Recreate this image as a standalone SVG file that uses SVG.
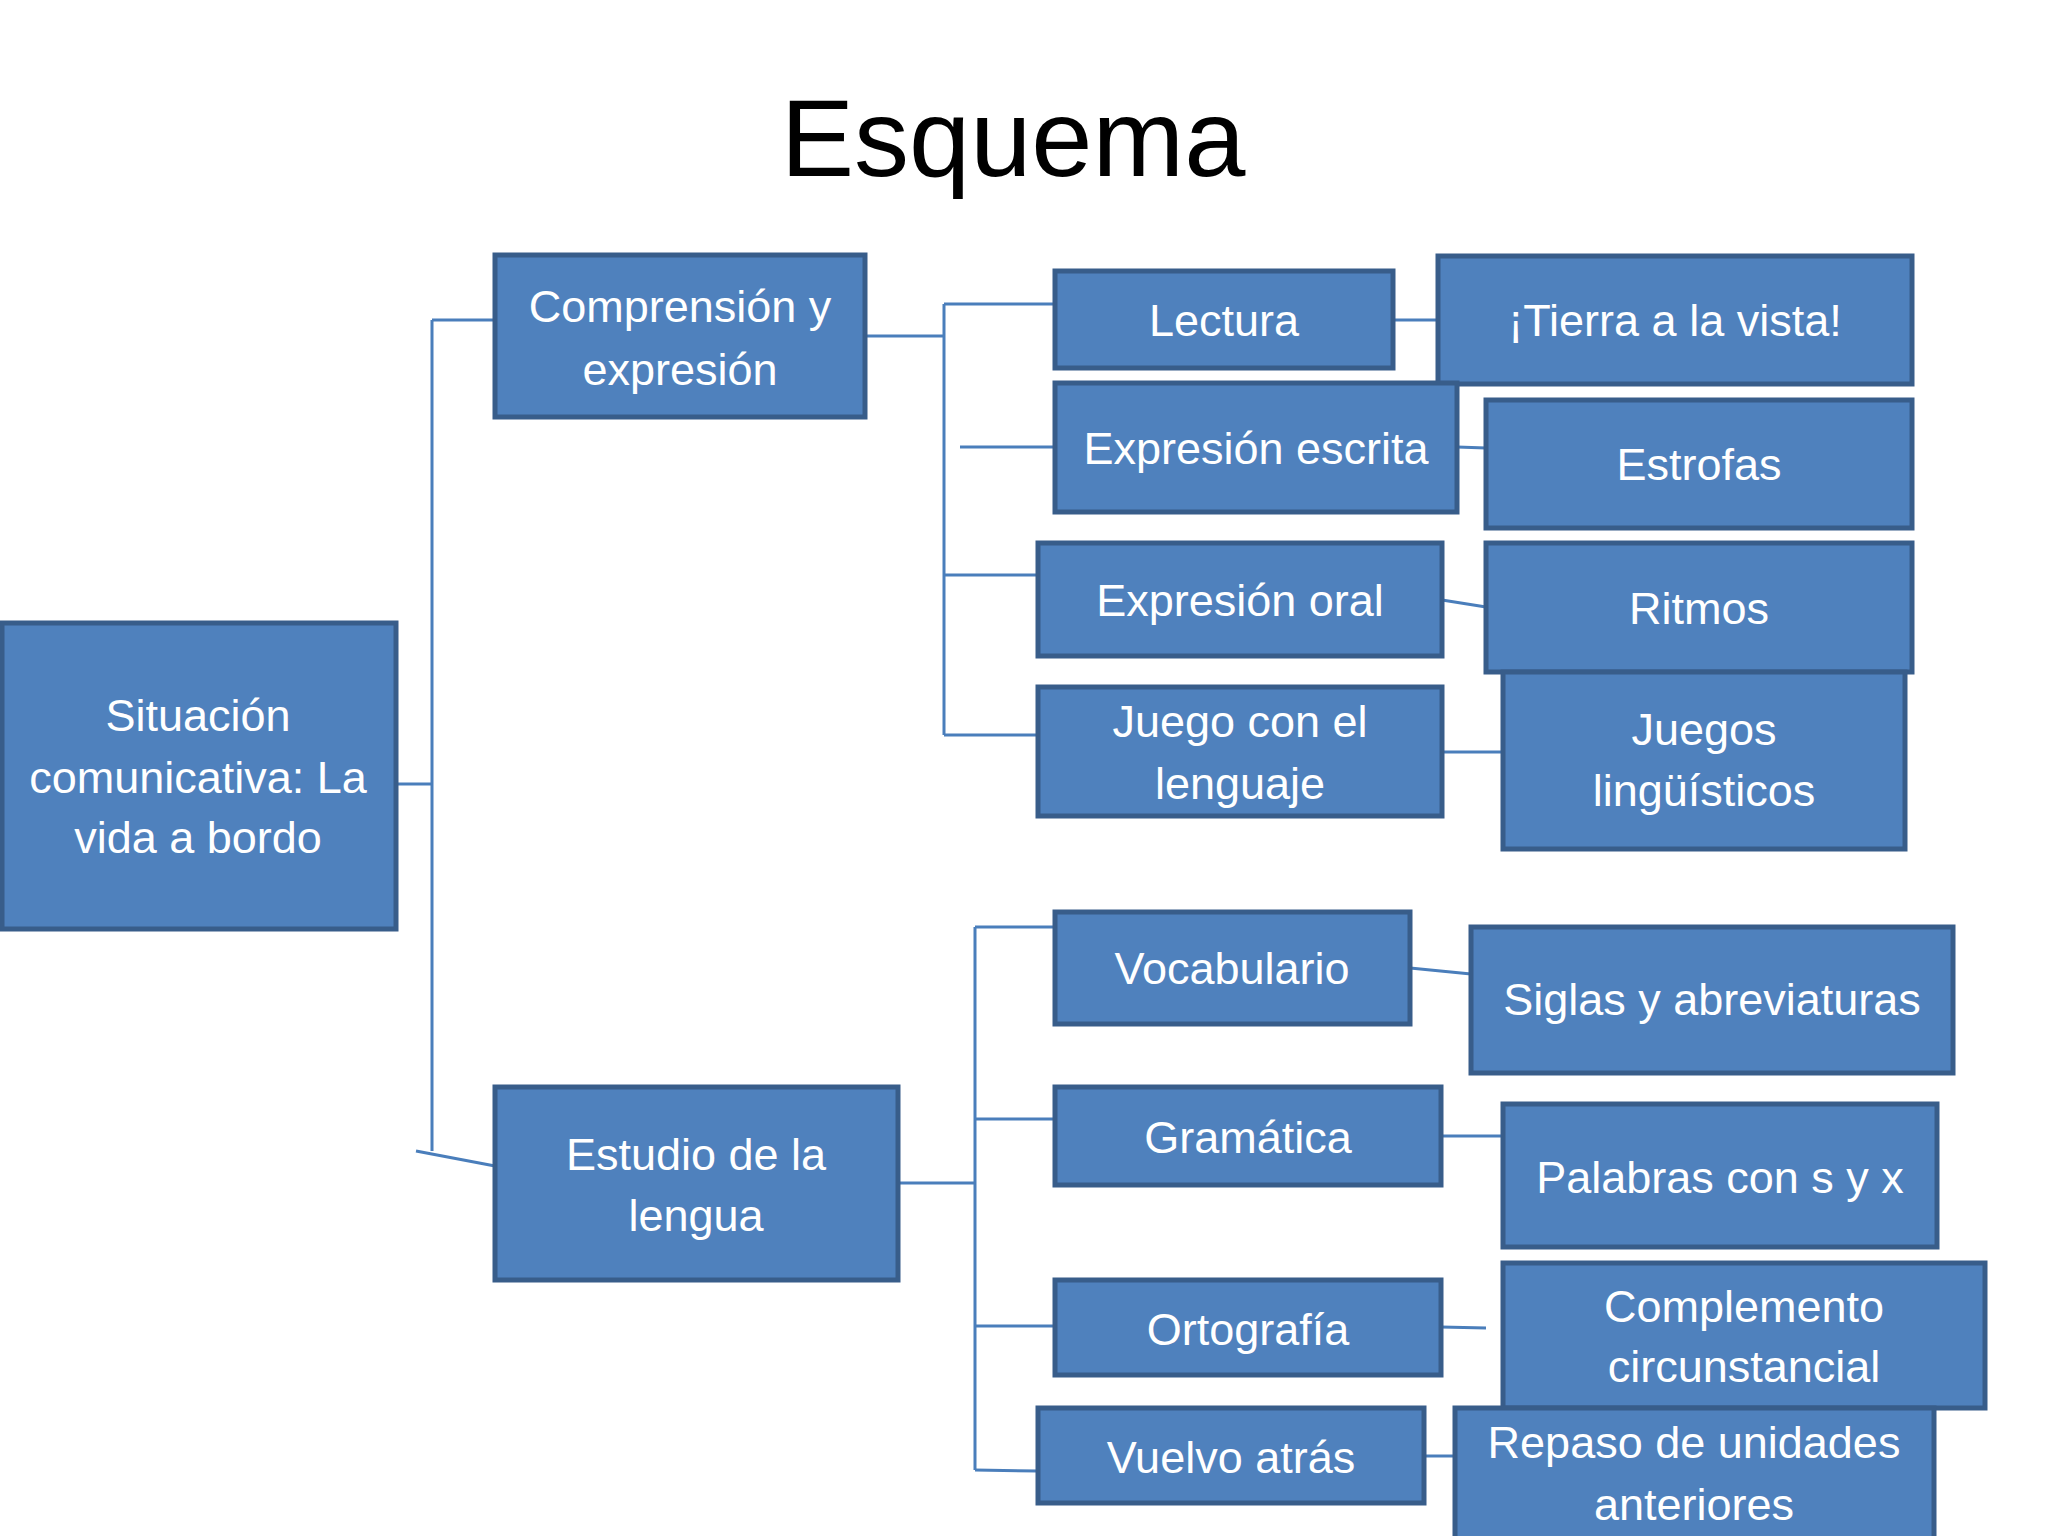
<svg xmlns="http://www.w3.org/2000/svg" width="2048" height="1536" viewBox="0 0 2048 1536">
<style>
.box{fill:#4F81BD;stroke:#385D8A;stroke-width:5}
.t{font-family:"Liberation Sans",Arial,sans-serif;font-size:45px;fill:#FFFFFF;text-anchor:middle}
.title{font-family:"Liberation Sans",Arial,sans-serif;font-size:110px;fill:#000000;text-anchor:middle}
.c{stroke:#4A7EBB;stroke-width:3;fill:none}
</style>
<rect width="2048" height="1536" fill="#FFFFFF"/>
<text class="title" x="1013" y="176">Esquema</text>
<g id="connectors">
<line class="c" x1="396" y1="784" x2="432" y2="784"/>
<line class="c" x1="432" y1="320" x2="432" y2="1151"/>
<line class="c" x1="432" y1="320" x2="495" y2="320"/>
<line class="c" x1="416" y1="1151" x2="495" y2="1166"/>
<line class="c" x1="865" y1="336" x2="944" y2="336"/>
<line class="c" x1="944" y1="304" x2="944" y2="735"/>
<line class="c" x1="944" y1="304" x2="1054" y2="304"/>
<line class="c" x1="960" y1="447" x2="1054" y2="447"/>
<line class="c" x1="944" y1="575" x2="1038" y2="575"/>
<line class="c" x1="944" y1="735" x2="1038" y2="735"/>
<line class="c" x1="1393" y1="320" x2="1438" y2="320"/>
<line class="c" x1="1457" y1="447" x2="1486" y2="448"/>
<line class="c" x1="1442" y1="600" x2="1486" y2="607"/>
<line class="c" x1="1442" y1="752" x2="1503" y2="752"/>
<line class="c" x1="898" y1="1183" x2="975" y2="1183"/>
<line class="c" x1="975" y1="927" x2="975" y2="1470"/>
<line class="c" x1="975" y1="927" x2="1054" y2="927"/>
<line class="c" x1="975" y1="1119" x2="1054" y2="1119"/>
<line class="c" x1="975" y1="1326" x2="1054" y2="1326"/>
<line class="c" x1="975" y1="1470" x2="1038" y2="1471"/>
<line class="c" x1="1410" y1="968" x2="1471" y2="974"/>
<line class="c" x1="1441" y1="1136" x2="1503" y2="1136"/>
<line class="c" x1="1441" y1="1327" x2="1486" y2="1328"/>
<line class="c" x1="1424" y1="1456" x2="1455" y2="1456"/>
</g>
<g id="n-situacion"><rect class="box" x="2" y="623" width="394" height="306"/>
<text class="t" x="198"><tspan x="198" y="731">Situación</tspan><tspan x="198" y="793">comunicativa: La</tspan><tspan x="198" y="853">vida a bordo</tspan></text></g>
<g id="n-comprension"><rect class="box" x="495" y="255" width="370" height="162"/>
<text class="t"><tspan x="680" y="322">Comprensión y</tspan><tspan x="680" y="385">expresión</tspan></text></g>
<g id="n-estudio"><rect class="box" x="495" y="1087" width="403" height="193"/>
<text class="t"><tspan x="696" y="1170">Estudio de la</tspan><tspan x="696" y="1231">lengua</tspan></text></g>
<g id="n-lectura"><rect class="box" x="1055" y="271" width="338" height="97"/>
<text class="t" x="1224" y="336">Lectura</text></g>
<g id="n-tierra"><rect class="box" x="1438" y="256" width="474" height="128"/>
<text class="t" x="1675" y="336">¡Tierra a la vista!</text></g>
<g id="n-escrita"><rect class="box" x="1055" y="383" width="402" height="129"/>
<text class="t" x="1256" y="464">Expresión escrita</text></g>
<g id="n-estrofas"><rect class="box" x="1486" y="400" width="426" height="128"/>
<text class="t" x="1699" y="480">Estrofas</text></g>
<g id="n-oral"><rect class="box" x="1038" y="543" width="404" height="113"/>
<text class="t" x="1240" y="616">Expresión oral</text></g>
<g id="n-ritmos"><rect class="box" x="1486" y="543" width="426" height="129"/>
<text class="t" x="1699" y="624">Ritmos</text></g>
<g id="n-juego"><rect class="box" x="1038" y="687" width="404" height="129"/>
<text class="t"><tspan x="1240" y="737">Juego con el</tspan><tspan x="1240" y="799">lenguaje</tspan></text></g>
<g id="n-juegos"><rect class="box" x="1503" y="672" width="402" height="177"/>
<text class="t"><tspan x="1704" y="745">Juegos</tspan><tspan x="1704" y="806">lingüísticos</tspan></text></g>
<g id="n-vocabulario"><rect class="box" x="1055" y="912" width="355" height="112"/>
<text class="t" x="1232" y="984">Vocabulario</text></g>
<g id="n-siglas"><rect class="box" x="1471" y="927" width="482" height="146"/>
<text class="t" x="1712" y="1015">Siglas y abreviaturas</text></g>
<g id="n-gramatica"><rect class="box" x="1055" y="1087" width="386" height="98"/>
<text class="t" x="1248" y="1153">Gramática</text></g>
<g id="n-palabras"><rect class="box" x="1503" y="1104" width="434" height="143"/>
<text class="t" x="1720" y="1193">Palabras con s y x</text></g>
<g id="n-ortografia"><rect class="box" x="1055" y="1280" width="386" height="95"/>
<text class="t" x="1248" y="1345">Ortografía</text></g>
<g id="n-complemento"><rect class="box" x="1503" y="1263" width="482" height="145"/>
<text class="t"><tspan x="1744" y="1322">Complemento</tspan><tspan x="1744" y="1382">circunstancial</tspan></text></g>
<g id="n-vuelvo"><rect class="box" x="1038" y="1408" width="386" height="95"/>
<text class="t" x="1231" y="1473">Vuelvo atrás</text></g>
<g id="n-repaso"><rect class="box" x="1455" y="1408" width="479" height="140"/>
<text class="t"><tspan x="1694" y="1458">Repaso de unidades</tspan><tspan x="1694" y="1520">anteriores</tspan></text></g>
</svg>
